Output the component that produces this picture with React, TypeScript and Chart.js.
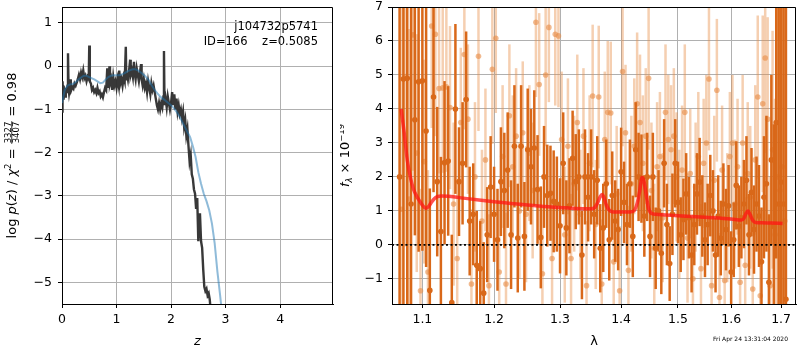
import React, { useEffect, useRef } from 'react';
import { Chart, registerables } from 'chart.js';
Chart.register(...registerables);

const FAMILY = '"DejaVu Sans", sans-serif';

// ---------- Left panel: log p(z) ----------
const pzZ = [
  0.00,0.01,0.02,0.03,0.04,0.05,0.06,0.07,0.08,0.09,
  0.10,0.11,0.12,0.13,0.15,0.16,0.17,0.19,0.21,0.23,
  0.25,0.27,0.29,0.31,0.33,0.35,0.37,0.39,0.41,0.43,
  0.45,0.47,0.49,0.50,0.51,0.53,0.55,0.57,0.59,0.61,
  0.63,0.65,0.67,0.69,0.71,0.73,0.75,0.77,0.79,0.81,
  0.83,0.84,0.86,0.87,0.88,0.90,0.92,0.94,0.96,0.98,
  1.00,1.02,1.04,1.05,1.07,1.09,1.11,1.13,1.15,1.17,
  1.18,1.19,1.21,1.23,1.25,1.26,1.28,1.30,1.32,1.33,
  1.35,1.37,1.39,1.41,1.43,1.45,1.46,1.48,1.50,1.52,
  1.54,1.56,1.58,1.60,1.62,1.64,1.66,1.68,1.70,1.72,
  1.74,1.76,1.78,1.80,1.82,1.84,1.86,1.87,1.88,1.90,
  1.92,1.94,1.96,1.98,2.00,2.02,2.04,2.06,2.08,2.10,
  2.12,2.14,2.16,2.18,2.20,2.22,2.24,2.26,2.28,2.30,
  2.32,2.34,2.36,2.38,2.40,2.42,2.44,2.46,2.48,2.50,
  2.52,2.53,2.55,2.57,2.59,2.61,2.63,2.65,2.67,2.69,
  2.71,2.73,
];
const pzLog = [
  -1.05,-0.35,-0.75,-0.45,-0.65,-0.55,-0.7,-0.5,-0.6,-0.55,
  -0.45,0.30,-0.5,-0.62,-0.45,-0.3,-0.55,-0.48,-0.52,-0.4,
  -0.45,-0.38,-0.3,-0.2,-0.3,-0.15,-0.25,-0.1,-0.28,-0.22,
  -0.35,-0.25,-0.3,0.48,-0.35,-0.4,-0.55,-0.5,-0.6,-0.55,
  -0.62,-0.5,-0.62,-0.58,-0.7,-0.65,-0.72,-0.6,-0.5,-0.55,
  -0.05,-0.5,-0.35,0.0,-0.4,-0.3,-0.55,-0.25,-0.45,-0.35,
  -0.5,-0.3,-0.45,-0.1,-0.4,-0.3,-0.45,-0.25,-0.35,0.45,
  -0.3,-0.15,-0.3,-0.1,0.15,-0.2,-0.1,-0.25,0.1,-0.15,
  -0.3,-0.05,-0.2,-0.35,-0.15,0.05,-0.3,-0.45,-0.3,-0.5,
  -0.4,-0.6,-0.35,-0.5,-0.65,-0.4,-0.55,-0.45,-0.6,-0.75,
  -0.9,-1.0,-0.85,-1.0,-0.85,-0.95,-0.7,0.35,-0.9,-0.75,
  -0.95,-0.7,-0.85,-1.0,-0.85,-0.6,-0.9,-0.65,-1.0,-0.75,
  -1.05,-0.9,-1.1,-1.0,-1.2,-1.05,-1.4,-1.25,-1.6,-1.45,
  -1.85,-2.2,-2.05,-2.5,-2.6,-2.85,-2.95,-3.3,-3.05,-4.05,
  -3.45,-3.4,-4.05,-4.2,-4.7,-5.1,-5.2,-5.15,-5.3,-5.25,
  -5.4,-5.7,
];
const smoothZ = [
  0.00,0.05,0.10,0.15,0.20,0.25,0.30,0.35,0.40,0.45,
  0.50,0.55,0.60,0.65,0.70,0.75,0.80,0.85,0.90,0.95,
  1.00,1.05,1.10,1.15,1.20,1.25,1.30,1.35,1.40,1.45,
  1.50,1.55,1.60,1.65,1.70,1.75,1.80,1.85,1.90,1.95,
  2.00,2.05,2.10,2.15,2.20,2.25,2.30,2.35,2.40,2.45,
  2.50,2.55,2.60,2.65,2.70,2.75,2.80,2.85,2.90,2.95,
];
const smoothLog = [
  -0.85,-0.55,-0.45,-0.42,-0.41,-0.37,-0.31,-0.26,-0.22,-0.22,
  -0.25,-0.28,-0.31,-0.35,-0.39,-0.38,-0.31,-0.25,-0.22,-0.21,
  -0.21,-0.21,-0.19,-0.16,-0.12,-0.09,-0.07,-0.07,-0.1,-0.15,
  -0.2,-0.26,-0.34,-0.45,-0.55,-0.63,-0.7,-0.75,-0.8,-0.85,
  -0.9,-0.97,-1.05,-1.15,-1.27,-1.4,-1.52,-1.64,-1.85,-2.1,
  -2.45,-2.72,-2.95,-3.12,-3.33,-3.64,-4.1,-4.75,-5.3,-5.9,
];
const zTicks = [0, 1, 2, 3, 4];
const pzTicks = [-5, -4, -3, -2, -1, 0, 1];

// ---------- Right panel: spectrum ----------
const darkWave = [
  1.070,1.075,1.080,1.085,1.090,1.095,1.100,1.105,1.110,1.115,
  1.120,1.125,1.130,1.135,1.140,1.145,1.150,1.155,1.160,1.165,
  1.170,1.175,1.180,1.185,1.190,1.195,1.200,1.205,1.210,1.215,
  1.220,1.225,1.230,1.235,1.240,1.245,1.250,1.255,1.260,1.265,
  1.270,1.275,1.280,1.285,1.290,1.295,1.300,1.305,1.310,1.315,
  1.320,1.325,1.330,1.335,1.340,1.345,1.350,1.355,1.360,1.365,
  1.370,1.375,1.380,1.385,1.390,1.395,1.400,1.405,1.410,1.415,
  1.420,1.425,1.430,1.435,1.440,1.445,1.450,1.455,1.460,1.465,
  1.470,1.475,1.480,1.485,1.490,1.495,1.500,1.505,1.510,1.515,
  1.520,1.525,1.530,1.535,1.540,1.545,1.550,1.555,1.560,1.565,
  1.570,1.575,1.580,1.585,1.590,1.595,1.600,1.605,1.610,1.615,
  1.620,1.625,1.630,1.635,1.640,1.645,1.650,1.655,1.660,1.665,
  1.670,1.675,1.680,1.685,1.690,1.695,1.700,1.705,1.710,
];
const darkFlux = [
  2.0,4.88,4.9,1.2,3.68,4.8,4.83,3.35,-1.34,4.35,
  1.86,0.39,2.42,2.47,-1.7,4.0,1.86,2.4,4.28,0.7,
  0.9,-0.6,-0.7,-1.42,0.3,1.7,0.9,0.15,1.86,1.6,
  2.2,0.3,2.9,0.2,2.9,0.25,2.8,2.3,2.85,1.63,
  0.22,2.0,1.45,1.52,1.28,1.2,0.56,2.4,0.5,1.15,
  2.55,1.86,2.0,-0.3,2.0,1.4,2.0,0.9,1.9,-0.1,
  0.5,1.8,0.15,1.45,0.7,0.45,2.15,1.25,0.6,1.8,
  0.25,2.8,2.0,1.95,0.85,2.0,0.25,2.0,-0.1,1.0,
  -0.25,2.4,0.6,-0.55,0.9,2.4,1.25,0.3,0.75,1.5,
  0.8,-0.3,0.6,1.5,1.85,0.85,0.15,0.6,1.45,1.0,
  -0.3,0.85,0.2,1.2,0.45,1.15,-0.8,0.15,1.75,0.55,
  0.8,1.2,1.9,0.3,1.55,0.45,1.2,0.85,-0.5,1.4,
  1.8,-1.1,2.5,0.55,3.6,1.2,1.85,1.2,-1.6,
];
const darkErr = [
  8,7,7,6,3.4,5,5,4,3,2.8,
  2.2,2.2,2.4,2.2,2.0,2.5,1.6,1.8,2.0,1.6,
  1.5,1.6,1.4,1.5,1.4,1.5,1.4,1.5,1.6,1.7,
  1.7,1.6,1.8,1.6,1.8,1.6,1.8,1.7,1.7,1.6,
  1.5,1.5,1.5,1.4,1.5,1.4,1.4,1.5,1.4,1.4,
  1.4,1.4,1.4,1.3,1.4,1.3,1.4,1.3,1.3,1.3,
  1.3,1.3,1.2,1.3,1.2,1.2,1.3,1.2,1.2,1.3,
  1.2,1.4,1.3,1.3,1.2,1.3,1.2,1.3,1.2,1.2,
  1.2,1.3,1.2,1.1,1.2,1.3,1.2,1.1,1.2,1.2,
  1.2,1.1,1.2,1.2,1.3,1.2,1.1,1.2,1.2,1.2,
  1.1,1.2,1.1,1.2,1.2,1.2,1.2,1.1,1.3,1.2,
  1.2,1.3,1.3,1.2,1.3,1.3,1.4,1.5,1.6,1.8,
  2.0,2.0,2.5,3.0,4,6,7,8,9,
];
const lightWave = [
  1.0725,1.0775,1.0825,1.0875,1.0925,1.0975,1.1025,1.1075,1.1125,1.1175,
  1.1225,1.1275,1.1325,1.1375,1.1425,1.1475,1.1525,1.1575,1.1625,1.1675,
  1.1725,1.1775,1.1825,1.1875,1.1925,1.1975,1.2025,1.2075,1.2125,1.2175,
  1.2225,1.2275,1.2325,1.2375,1.2425,1.2475,1.2525,1.2575,1.2625,1.2675,
  1.2725,1.2775,1.2825,1.2875,1.2925,1.2975,1.3025,1.3075,1.3125,1.3175,
  1.3225,1.3275,1.3325,1.3375,1.3425,1.3475,1.3525,1.3575,1.3625,1.3675,
  1.3725,1.3775,1.3825,1.3875,1.3925,1.3975,1.4025,1.4075,1.4125,1.4175,
  1.4225,1.4275,1.4325,1.4375,1.4425,1.4475,1.4525,1.4575,1.4625,1.4675,
  1.4725,1.4775,1.4825,1.4875,1.4925,1.4975,1.5025,1.5075,1.5125,1.5175,
  1.5225,1.5275,1.5325,1.5375,1.5425,1.5475,1.5525,1.5575,1.5625,1.5675,
  1.5725,1.5775,1.5825,1.5875,1.5925,1.5975,1.6025,1.6075,1.6125,1.6175,
  1.6225,1.6275,1.6325,1.6375,1.6425,1.6475,1.6525,1.6575,1.6625,1.6675,
  1.6725,1.6775,1.6825,1.6875,1.6925,1.6975,1.7025,1.7075,
];
const lightFlux = [
  1.05,4.95,1.35,6.18,2.7,-1.35,2.45,-0.8,6.44,6.2,
  4.6,4.62,4.65,4.04,1.2,-0.4,3.6,5.6,3.7,-1.15,
  2.0,5.55,0.7,2.5,-1.2,5.17,6.08,-0.8,2.6,-1.15,
  3.8,2.3,3.2,1.0,3.3,0.9,2.7,1.6,6.55,4.72,
  -0.85,5.0,6.4,-0.4,6.2,6.15,3.1,0.3,2.9,-0.4,
  1.8,3.6,0.9,3.2,-1.2,2.4,4.38,0.6,4.35,-1.15,
  3.1,3.9,3.88,-0.5,1.5,-1.35,5.1,3.3,-0.75,1.8,
  2.9,4.15,3.6,2.4,3.2,4.9,1.6,-0.1,2.3,2.6,
  0.8,3.9,3.1,2.8,3.2,2.0,0.9,2.2,3.9,0.2,
  2.1,-1.0,1.7,2.6,-0.7,2.4,3.0,4.88,-1.2,1.9,
  4.55,-1.55,2.2,-1.05,0.8,2.6,3.0,1.2,2.3,-1.1,
  3.0,-0.6,2.1,1.4,-1.3,2.5,4.35,-1.5,4.15,5.5,
  3.7,-1.2,2.8,0.3,2.0,1.6,2.3,0.7,
];
const lightErr = [
  6,5,5,4,3.5,3,3,3,3,3,
  2.5,2.5,2.5,2.4,2.4,2.3,2.2,2.2,2.2,2.2,
  2.2,2.2,2.1,2.1,2.1,2.2,2.2,2.1,2.1,2.1,
  2.1,2.1,2.0,2.0,2.1,2.0,2.0,2.0,2.2,2.1,
  2.0,2.1,2.2,2.0,2.1,2.1,2.0,2.0,2.0,1.9,
  2.0,2.0,1.9,2.0,1.9,2.0,2.1,1.9,2.1,1.9,
  2.0,2.1,2.1,1.9,2.0,1.9,2.2,2.0,1.9,2.0,
  2.0,2.1,2.0,2.0,2.0,2.1,2.0,1.9,1.9,1.9,
  1.9,2.0,1.9,1.9,2.0,1.9,1.9,1.9,2.0,1.9,
  1.9,1.9,1.9,1.9,1.9,1.9,2.0,2.1,1.9,1.9,
  2.1,1.9,1.9,1.9,1.9,1.9,2.0,1.9,2.0,2.0,
  2.0,2.0,2.1,2.1,2.2,2.2,2.4,2.5,2.6,2.8,
  3,3.2,3.5,4,5,6,7,8,
];
const modelWave = [
  1.072,1.076,1.080,1.084,1.088,1.092,1.096,1.100,1.104,1.108,
  1.112,1.116,1.120,1.126,1.135,1.150,1.175,1.200,1.225,1.250,
  1.275,1.300,1.325,1.350,1.356,1.361,1.365,1.368,1.371,1.375,
  1.380,1.386,1.400,1.415,1.422,1.428,1.432,1.436,1.439,1.443,
  1.447,1.452,1.460,1.500,1.550,1.600,1.620,1.625,1.629,1.633,
  1.637,1.642,1.648,1.660,1.680,1.703,
];
const modelFlux = [
  4.0,3.3,2.5,2.0,1.65,1.45,1.3,1.17,1.08,1.12,
  1.25,1.36,1.42,1.44,1.43,1.39,1.33,1.27,1.22,1.17,
  1.13,1.1,1.07,1.06,1.1,1.25,1.42,1.48,1.4,1.18,
  1.02,0.97,0.97,0.97,1.0,1.25,1.6,1.98,1.9,1.5,
  1.1,0.93,0.9,0.86,0.81,0.76,0.73,0.78,0.92,1.0,
  0.9,0.73,0.66,0.65,0.64,0.63,
];
const waveTicks = [1.1, 1.2, 1.3, 1.4, 1.5, 1.6, 1.7];
const fluxTicks = [-1, 0, 1, 2, 3, 4, 5, 6, 7];

const DARK = 'rgb(217,104,25)';
const LIGHT_BAR = 'rgba(232,140,70,0.42)';
const LIGHT_PT = 'rgba(232,140,70,0.6)';

type Part = { t?: string; font: string; dy?: number; frac?: [string, string] };

function drawRotatedRich(ctx: CanvasRenderingContext2D, parts: Part[], x: number, y: number) {
  ctx.save();
  ctx.translate(x, y);
  ctx.rotate(-Math.PI / 2);
  ctx.fillStyle = '#000';
  ctx.textBaseline = 'alphabetic';
  ctx.textAlign = 'left';
  const widths = parts.map((p) => {
    ctx.font = p.font;
    if (p.frac) return Math.max(ctx.measureText(p.frac[0]).width, ctx.measureText(p.frac[1]).width) + 2;
    return ctx.measureText(p.t || '').width;
  });
  const total = widths.reduce((a, b) => a + b, 0);
  let cx = -total / 2;
  parts.forEach((p, i) => {
    ctx.font = p.font;
    if (p.frac) {
      const w = widths[i];
      const nw = ctx.measureText(p.frac[0]).width;
      const dw = ctx.measureText(p.frac[1]).width;
      ctx.fillText(p.frac[0], cx + (w - nw) / 2, -5.4);
      ctx.fillText(p.frac[1], cx + (w - dw) / 2, 3.0);
      ctx.fillRect(cx + 0.5, -4.6, w - 1, 0.8);
    } else {
      ctx.fillText(p.t || '', cx, p.dy || 0);
    }
    cx += widths[i];
  });
  ctx.restore();
}

const fmtMinus = (v: number | string) => String(v).replace('-', '\u2212');

function frame(chart: any) {
  const { ctx, chartArea: a } = chart;
  ctx.save();
  ctx.strokeStyle = '#000';
  ctx.lineWidth = 1;
  ctx.beginPath();
  ctx.moveTo(Math.round(a.left) + 0.5, Math.round(a.top) + 0.5);
  ctx.lineTo(Math.round(a.right) - 0.5, Math.round(a.top) + 0.5);
  ctx.lineTo(Math.round(a.right) - 0.5, Math.round(a.bottom) + 0.5);
  ctx.stroke();
  ctx.restore();
}

const fitY = (w: number) => (s: any) => { s.width = w; s.paddingTop = 0; s.paddingBottom = 0; };
const fitX = (h: number) => (s: any) => { s.height = h; s.paddingLeft = 0; s.paddingRight = 0; };

export default function App() {
  const leftRef = useRef<HTMLCanvasElement>(null);
  const rightRef = useRef<HTMLCanvasElement>(null);

  useEffect(() => {
    Chart.defaults.font.family = FAMILY;
    const tickFont = { size: 12.5, family: FAMILY };
    const gridOpts = { color: '#b0b0b0', lineWidth: 1, tickColor: '#000', tickLength: 4 };
    const borderOpts = { color: '#000', width: 1 };

    const leftPlugin = {
      id: 'leftDeco',
      afterDraw(chart: any) {
        frame(chart);
        const ctx = chart.ctx;
        ctx.save();
        ctx.fillStyle = '#000';
        ctx.font = `11.5px ${FAMILY}`;
        ctx.textAlign = 'right';
        ctx.textBaseline = 'alphabetic';
        ctx.fillText('j104732p5741', 318, 29.5);
        ctx.fillText('ID=166    z=0.5085', 318, 45);
        ctx.font = `italic 13px ${FAMILY}`;
        ctx.textAlign = 'center';
        ctx.fillText('z', (chart.chartArea.left + chart.chartArea.right) / 2, 345);
        ctx.restore();
        const big = `13px ${FAMILY}`;
        const it = `italic 13px ${FAMILY}`;
        const sm = `8.5px ${FAMILY}`;
        drawRotatedRich(ctx, [
          { t: 'log ', font: big },
          { t: 'p', font: it },
          { t: '(', font: big },
          { t: 'z', font: it },
          { t: ') / ', font: big },
          { t: '\u03c7', font: it },
          { t: '2', font: sm, dy: -5.5 },
          { t: ' = ', font: big },
          { frac: ['3327', '3407'], font: sm },
          { t: ' = 0.98', font: big },
        ], 16, (chart.chartArea.top + chart.chartArea.bottom) / 2);
      },
    };

    const c1 = new Chart(leftRef.current as HTMLCanvasElement, {
      type: 'scatter',
      data: {
        datasets: [
          {
            label: 'smooth',
            data: smoothZ.map((x, i) => ({ x, y: smoothLog[i] })),
            showLine: true,
            borderColor: 'rgba(31,119,180,0.5)',
            borderWidth: 2,
            pointRadius: 0,
          } as any,
          {
            label: 'pz',
            data: pzZ.map((x, i) => ({ x, y: pzLog[i] })),
            showLine: true,
            borderColor: 'rgba(45,45,45,0.95)',
            borderWidth: 2.4,
            pointRadius: 0,
          } as any,
        ],
      },
      options: {
        animation: false,
        responsive: false,
        events: [],
        layout: { padding: { left: 0, right: 7, top: 7, bottom: 0 } },
        plugins: { legend: { display: false }, tooltip: { enabled: false } },
        scales: {
          x: {
            type: 'linear',
            min: 0,
            max: 4.97,
            afterBuildTicks: (s: any) => { s.ticks = zTicks.map((v) => ({ value: v })); },
            afterFit: fitX(46),
            ticks: { font: tickFont, color: '#000', padding: 4, maxRotation: 0, autoSkip: false, callback: (v: any) => fmtMinus(v) },
            grid: gridOpts,
            border: borderOpts,
          },
          y: {
            type: 'linear',
            min: -5.5,
            max: 1.37,
            afterBuildTicks: (s: any) => { s.ticks = pzTicks.map((v) => ({ value: v })); },
            afterFit: fitY(62),
            ticks: { font: tickFont, color: '#000', padding: 6, autoSkip: false, callback: (v: any) => fmtMinus(v) },
            grid: gridOpts,
            border: borderOpts,
          },
        },
      } as any,
      plugins: [leftPlugin],
    });

    const errInfo: Record<number, { err: number[]; color: string; width: number }> = {
      2: { err: darkErr, color: DARK, width: 2.5 },
      3: { err: lightErr, color: LIGHT_BAR, width: 2.5 },
    };

    const errorBars = {
      id: 'errorBars',
      beforeDatasetDraw(chart: any, args: any) {
        const info = errInfo[args.index];
        if (!info) return;
        const ds = chart.data.datasets[args.index];
        const xs = chart.scales.x;
        const ys = chart.scales.y;
        const a = chart.chartArea;
        const ctx = chart.ctx;
        ctx.save();
        ctx.beginPath();
        ctx.rect(a.left, a.top, a.right - a.left, a.bottom - a.top);
        ctx.clip();
        ctx.strokeStyle = info.color;
        ctx.lineWidth = info.width;
        ds.data.forEach((p: any, i: number) => {
          const px = xs.getPixelForValue(p.x);
          ctx.beginPath();
          ctx.moveTo(px, ys.getPixelForValue(p.y - info.err[i]));
          ctx.lineTo(px, ys.getPixelForValue(p.y + info.err[i]));
          ctx.stroke();
        });
        ctx.restore();
      },
    };

    const rightPlugin = {
      id: 'rightDeco',
      afterDraw(chart: any) {
        frame(chart);
        const ctx = chart.ctx;
        ctx.save();
        ctx.fillStyle = '#000';
        ctx.font = `13px ${FAMILY}`;
        ctx.textAlign = 'center';
        ctx.textBaseline = 'alphabetic';
        ctx.fillText('\u03bb', (chart.chartArea.left + chart.chartArea.right) / 2, 345);
        ctx.font = `6px ${FAMILY}`;
        ctx.textAlign = 'right';
        ctx.fillText('Fri Apr 24 13:31:04 2020', 448, 341);
        ctx.restore();
        const big = `13px ${FAMILY}`;
        const it = `italic 13px ${FAMILY}`;
        const smit = `italic 8.5px ${FAMILY}`;
        const sm = `8.5px ${FAMILY}`;
        drawRotatedRich(ctx, [
          { t: 'f', font: it },
          { t: '\u03bb', font: smit, dy: 3 },
          { t: ' \u00d7 10', font: big },
          { t: '\u221219', font: sm, dy: -5.5 },
        ], 9, (chart.chartArea.top + chart.chartArea.bottom) / 2);
      },
    };

    const c2 = new Chart(rightRef.current as HTMLCanvasElement, {
      type: 'scatter',
      data: {
        datasets: [
          {
            label: 'zero',
            data: [{ x: 1.0602, y: 0 }, { x: 1.731, y: 0 }],
            showLine: true,
            borderColor: '#000',
            borderWidth: 1.6,
            borderDash: [2, 2.5],
            pointRadius: 0,
          } as any,
          {
            label: 'model',
            data: modelWave.map((x, i) => ({ x, y: modelFlux[i] })),
            showLine: true,
            borderColor: 'rgba(255,20,20,0.75)',
            borderWidth: 3.5,
            pointRadius: 0,
            cubicInterpolationMode: 'monotone',
          } as any,
          {
            label: 'dark',
            data: darkWave.map((x, i) => ({ x, y: darkFlux[i] })),
            pointRadius: 2.8,
            pointBackgroundColor: DARK,
            pointBorderWidth: 0,
          } as any,
          {
            label: 'light',
            data: lightWave.map((x, i) => ({ x, y: lightFlux[i] })),
            pointRadius: 2.8,
            pointBackgroundColor: LIGHT_PT,
            pointBorderWidth: 0,
          } as any,
        ],
      },
      options: {
        animation: false,
        responsive: false,
        events: [],
        layout: { padding: { left: 0, right: 1, top: 7, bottom: 0 } },
        plugins: { legend: { display: false }, tooltip: { enabled: false } },
        scales: {
          x: {
            type: 'logarithmic',
            min: 1.0602,
            max: 1.731,
            afterBuildTicks: (s: any) => { s.ticks = waveTicks.map((v) => ({ value: v })); },
            afterFit: fitX(46),
            ticks: { font: tickFont, color: '#000', padding: 4, maxRotation: 0, autoSkip: false, callback: (v: any) => Number(v).toFixed(1) },
            grid: gridOpts,
            border: borderOpts,
          },
          y: {
            type: 'linear',
            min: -1.74,
            max: 7,
            afterBuildTicks: (s: any) => { s.ticks = fluxTicks.map((v) => ({ value: v })); },
            afterFit: fitY(52),
            ticks: { font: tickFont, color: '#000', padding: 5, autoSkip: false, callback: (v: any) => fmtMinus(v) },
            grid: gridOpts,
            border: borderOpts,
          },
        },
      } as any,
      plugins: [errorBars, rightPlugin],
    });

    return () => {
      c1.destroy();
      c2.destroy();
    };
  }, []);

  return (
    <div style={{ position: 'fixed', left: 0, top: 0, width: 800, height: 350, background: '#fff' }}>
      <canvas ref={leftRef} width={340} height={350} style={{ position: 'absolute', left: 0, top: 0, width: 340, height: 350 }} />
      <canvas ref={rightRef} width={460} height={350} style={{ position: 'absolute', left: 340, top: 0, width: 460, height: 350 }} />
    </div>
  );
}
